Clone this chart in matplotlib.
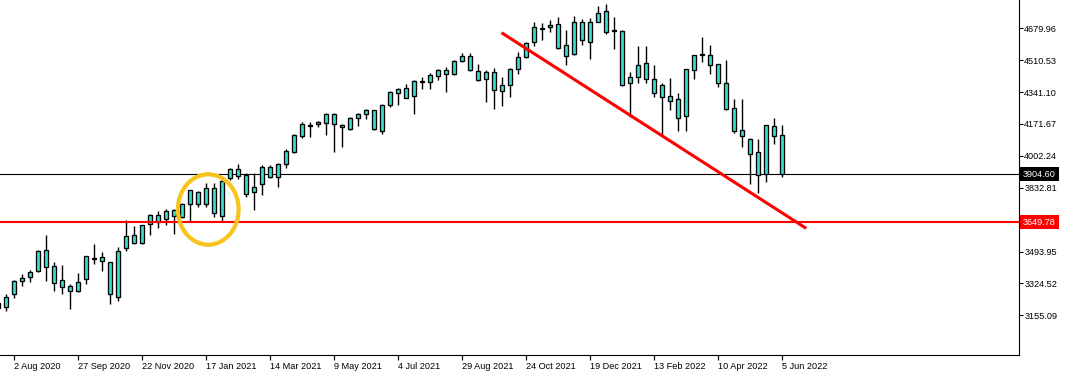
import matplotlib
matplotlib.use('Agg')
import matplotlib.pyplot as plt
from matplotlib.patches import Ellipse

# weekly bars, week of 19 Jul 2020 .. week of 5 Jun 2022
opens = [3193.9, 3200.8, 3266.7, 3338.9, 3357.0, 3390.4, 3500.4, 3417.0, 3341.0, 3282.6,
         3282.6, 3349.5, 3457.9, 3442.0, 3436.7, 3250.7, 3514.2, 3580.1, 3537.6, 3638.6,
         3686.4, 3668.3, 3682.7, 3675.8, 3744.8, 3808.6, 3744.8, 3829.8, 3684.3, 3883.0,
         3932.4, 3900.5, 3811.8, 3851.1, 3941.4, 3888.3, 3957.4, 4024.3, 4109.3, 4168.8,
         4169.9, 4178.4, 4224.6, 4164.6, 4146.5, 4201.8, 4226.2, 4244.3, 4134.3, 4270.8,
         4337.8, 4362.7, 4318.7, 4398.3, 4393.0, 4424.9, 4458.4, 4435.5, 4504.6, 4532.8,
         4454.7, 4409.0, 4447.8, 4345.2, 4377.1, 4462.1, 4525.9, 4605.6, 4681.5, 4685.3,
         4702.8, 4589.6, 4541.8, 4711.8, 4609.8, 4715.0, 4770.3, 4668.3, 4665.6, 4387.7,
         4419.6, 4494.0, 4409.0, 4316.5, 4318.7, 4302.7, 4215.6, 4456.8, 4543.4, 4536.5,
         4488.7, 4387.7, 4254.9, 4138.0, 4090.2, 4021.1, 3907.4, 4159.3, 4111.4]
highs = [3247.0, 3268.2, 3342.6, 3374.5, 3395.8, 3502.0, 3581.7, 3439.9, 3422.3, 3319.8,
         3379.8, 3470.0, 3533.9, 3491.4, 3438.0, 3516.4, 3661.4, 3629.5, 3634.5, 3693.3,
         3709.2, 3718.3, 3718.3, 3750.1, 3820.5, 3815.5, 3859.6, 3859.6, 3883.0, 3936.1,
         3959.0, 3909.5, 3911.1, 3953.6, 3952.0, 3965.9, 4037.1, 4118.3, 4180.5, 4183.7,
         4189.0, 4231.5, 4231.5, 4173.1, 4210.3, 4229.9, 4249.6, 4247.5, 4277.7, 4346.8,
         4364.3, 4384.0, 4405.3, 4419.6, 4440.8, 4463.7, 4472.7, 4511.5, 4547.1, 4547.1,
         4490.3, 4458.4, 4469.0, 4419.6, 4469.0, 4552.4, 4605.6, 4713.4, 4706.5, 4722.4,
         4740.0, 4669.3, 4745.3, 4727.8, 4737.3, 4800.0, 4807.5, 4738.4, 4669.3, 4447.8,
         4584.8, 4584.8, 4484.9, 4389.3, 4414.3, 4334.6, 4463.5, 4538.0, 4633.7, 4591.2,
         4490.0, 4511.5, 4304.3, 4304.3, 4095.5, 4090.2, 4166.0, 4201.8, 4164.6]
lows = [3172.6, 3179.5, 3247.0, 3312.4, 3333.6, 3385.1, 3338.9, 3285.8, 3268.2, 3190.1,
        3280.0, 3323.0, 3426.1, 3392.0, 3216.7, 3232.7, 3498.3, 3535.0, 3535.0, 3583.3,
        3620.5, 3636.4, 3588.6, 3670.4, 3652.4, 3732.1, 3732.1, 3679.0, 3652.4, 3873.9,
        3877.7, 3782.0, 3714.5, 3794.2, 3886.2, 3838.4, 3937.7, 4019.0, 4098.7, 4104.0,
        4157.1, 4114.6, 4024.3, 4050.9, 4139.6, 4160.9, 4199.6, 4138.0, 4118.3, 4260.2,
        4274.0, 4308.0, 4223.0, 4359.0, 4359.0, 4406.8, 4343.1, 4430.2, 4499.3, 4454.0,
        4401.0, 4290.0, 4252.8, 4265.5, 4313.3, 4435.5, 4522.1, 4584.3, 4619.4, 4661.9,
        4571.6, 4486.5, 4538.1, 4589.6, 4518.4, 4711.8, 4651.2, 4571.6, 4374.0, 4210.3,
        4390.9, 4390.9, 4316.5, 4109.3, 4245.9, 4135.9, 4135.9, 4412.2, 4499.3, 4437.1,
        4369.7, 4244.3, 4122.1, 4050.9, 3851.1, 3803.3, 3864.9, 4066.8, 3891.5]
closes = [3220.4, 3253.9, 3337.3, 3354.9, 3385.1, 3496.7, 3410.1, 3325.1, 3307.0, 3309.1,
          3330.4, 3468.5, 3452.6, 3463.2, 3266.7, 3498.3, 3574.8, 3537.6, 3633.3, 3686.4,
          3650.8, 3707.6, 3713.0, 3746.4, 3819.2, 3744.8, 3829.8, 3697.0, 3868.6, 3930.8,
          3895.2, 3798.0, 3835.2, 3941.4, 3891.5, 3960.5, 4026.4, 4113.0, 4171.5, 4163.5,
          4182.1, 4224.6, 4169.9, 4153.9, 4201.8, 4224.6, 4244.3, 4143.3, 4272.4, 4339.9,
          4355.8, 4311.2, 4399.9, 4393.0, 4431.8, 4458.4, 4435.5, 4506.2, 4532.8, 4456.8,
          4403.7, 4447.8, 4350.5, 4378.7, 4463.7, 4527.5, 4600.2, 4685.3, 4677.8, 4697.5,
          4576.9, 4531.2, 4711.8, 4616.2, 4713.4, 4759.6, 4660.3, 4665.6, 4377.1, 4419.6,
          4483.4, 4413.2, 4338.8, 4377.1, 4292.1, 4201.8, 4462.1, 4536.5, 4539.7, 4483.4,
          4387.7, 4249.6, 4134.3, 4106.1, 4010.5, 3898.9, 4164.6, 4106.1, 3904.6]

date_ticks = [2, 10, 18, 26, 34, 42, 50, 58, 66, 74, 82, 90, 98]
date_labels = ['2 Aug 2020', '27 Sep 2020', '22 Nov 2020', '17 Jan 2021', '14 Mar 2021',
               '9 May 2021', '4 Jul 2021', '29 Aug 2021', '24 Oct 2021', '19 Dec 2021',
               '13 Feb 2022', '10 Apr 2022', '5 Jun 2022']
price_ticks = [3155.09, 3324.52, 3493.95, 3663.38, 3832.81, 4002.24, 4171.67,
               4341.10, 4510.53, 4679.96]

last_price = 3904.60
support = 3649.78
trend_x = [62.9, 101.0]
trend_y = [4656.6, 3616.8]
circle_x, circle_y = 26.24, 3717.2
circle_w, circle_h = 7.6, 374

fnt = 'Liberation Sans'
s = 6.6

fig = plt.figure(figsize=(10.66, 3.74), dpi=100)
ax = fig.add_axes([0, 19/374, 1018.7/1066, 355/374])

xs = list(range(len(opens)))
ax.vlines(xs, lows, highs, color='black', lw=1.0, zorder=2)
bottoms = [min(o, c) for o, c in zip(opens, closes)]
heights = [max(abs(c - o), 0.8) for o, c in zip(opens, closes)]
ax.bar(xs, heights, bottom=bottoms, width=0.52, color='#40E0D0',
       edgecolor='black', lw=0.95, zorder=3)

ax.axhline(last_price, color='black', lw=0.8, zorder=1)
ax.axhline(support, color='#FF0000', lw=1.5, zorder=4)
ax.plot(trend_x, trend_y, color='#FF0000', lw=2.2, solid_capstyle='butt', zorder=5)
ax.add_patch(Ellipse((circle_x, circle_y), circle_w, circle_h, fill=False,
                     ec='#F8C41C', lw=3.0, zorder=6))

ax.set_xlim(0.2125, 127.55)
ax.set_ylim(2944.2, 4830.3)

ax.spines['top'].set_visible(False)
ax.spines['left'].set_visible(False)
for sp in ['right', 'bottom']:
    ax.spines[sp].set_linewidth(0.8)

ax.yaxis.tick_right()
ax.set_yticks(price_ticks)
ax.set_yticklabels([f'{v:.2f}' for v in price_ticks], fontsize=s, family=fnt)
ax.set_xticks(date_ticks)
ax.set_xticklabels(date_labels, fontsize=s, family=fnt, ha='left')
ax.tick_params(axis='y', direction='out', length=3, width=0.8, pad=1)
ax.tick_params(axis='x', direction='out', length=3.5, width=0.8, pad=1.2)

for val, bg in [(last_price, 'black'), (support, '#FF0000')]:
    ax.annotate(f'{val:.2f}', xy=(1, val), xycoords=ax.get_yaxis_transform(),
                xytext=(3.2, 0), textcoords='offset points', ha='left', va='center',
                fontsize=s, family=fnt, color='white', annotation_clip=False, zorder=10,
                bbox=dict(boxstyle='square,pad=0.3', fc=bg, ec='none'))

plt.savefig('out.png', dpi=100)
